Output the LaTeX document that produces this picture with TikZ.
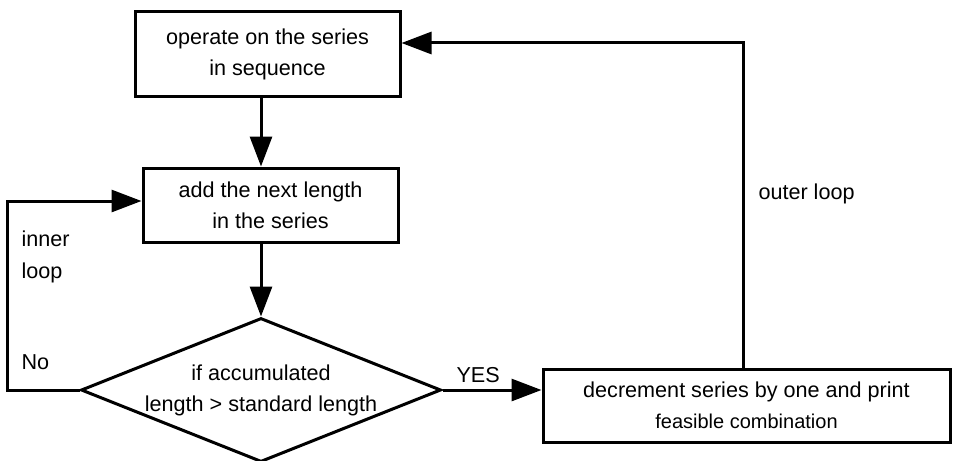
\documentclass[tikz,border=0pt]{standalone}
\usepackage{fontspec}
\setmainfont{Liberation Sans}
\usetikzlibrary{arrows.meta}
\usetikzlibrary{shapes.geometric}

\begin{document}
\begin{tikzpicture}[x=0.5pt, y=-0.5pt, line width=1.5pt, font=\fontsize{10.8}{15.5}\selectfont]
			\tikzstyle{box}=[rectangle, draw=black, fill=white, inner sep=0pt, align=center]
			\tikzstyle{test}=[diamond, draw=black, fill=white, shape aspect=2.5, inner sep=-5pt, minimum width=180pt, minimum height=72pt, align=center]
			\tikzstyle{flow}=[-{Triangle[length=15pt, width=11pt]}]
			\tikzstyle{annot}=[anchor=west, inner sep=0pt, align=left]
			
			\useasboundingbox (0,0) rectangle (961,460);
			
			% Draw the steps
			\node[box, minimum width=132.5pt, minimum height=42pt] (operate) at (267.5,54) {operate on the series \\ in sequence};
			\node[box, minimum width=127.5pt, minimum height=37pt] (addlen) at (270.5,205) {add the next length \\ in the series};
			\node[test] (check) at (261,390) {if accumulated \\ length > standard length};
			\node[box, minimum width=203.5pt, minimum height=36.5pt] (decrement) at (746.5,405.5) {decrement series by one and print \\ {\fontsize{10}{13}\selectfont feasible combination}};
			
			% Corners of the loops
			\coordinate (innercorner) at (7,201);
			\coordinate (outercorner) at (743,43);
			
			% Draw arrows
			\path[flow] (operate.south -| check.north) edge (addlen.north -| check.north);
			\path[flow] (addlen.south -| check.north) edge (check.north);
			\path[flow] (check.east) edge (decrement.west |- check.east);
			\draw[flow] (check.west) -| (innercorner) -- (addlen.west |- innercorner);
			\draw[flow] (decrement.north -| outercorner) -- (outercorner) -- (operate.east |- outercorner);
			
			% Labels
			\node[annot, font=\fontsize{10.8}{16}\selectfont] (innerlab) at (20,257) {inner \\ loop};
			\node[annot] (nolab) at (20,362) {No};
			\node[annot] (yeslab) at (455,375) {YES};
			\node[annot] (outerlab) at (757,194) {outer loop};
			
		\end{tikzpicture}
\end{document}
